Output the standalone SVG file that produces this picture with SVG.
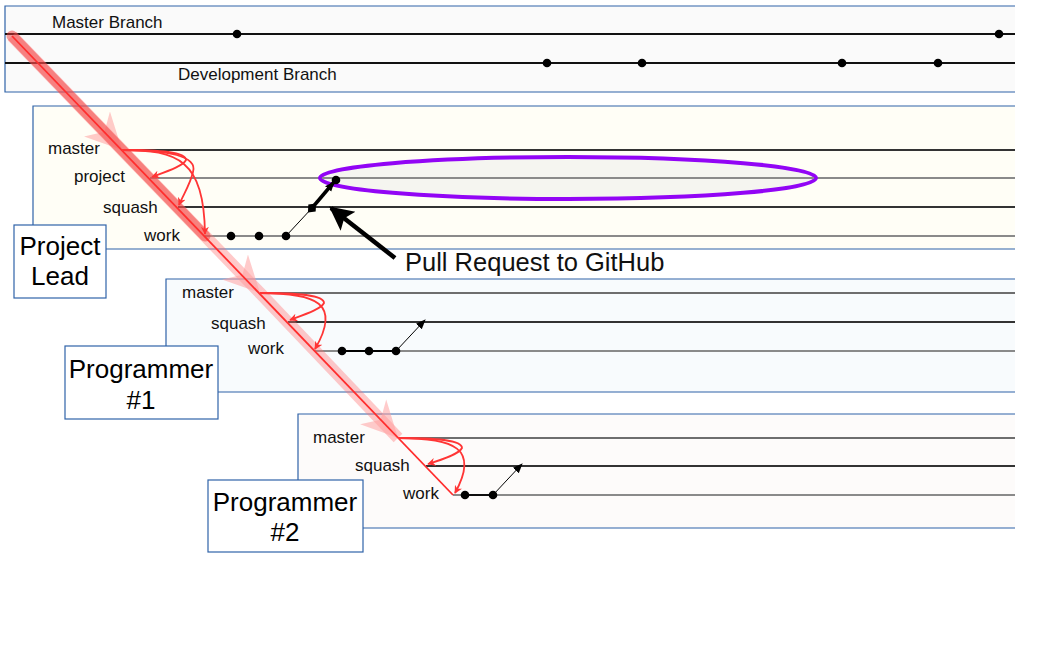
<svg xmlns="http://www.w3.org/2000/svg" width="1056" height="672" viewBox="0 0 1056 672">
  <style>
    .panel { stroke: #2f63a8; stroke-width: 1.2; }
    .tag { fill: #ffffff; stroke: #2f63a8; stroke-width: 1.2; }
    .lbl { font-family: "Liberation Sans", Arial, sans-serif; font-size: 17px; fill: #111; }
    .big { font-family: "Liberation Sans", Arial, sans-serif; font-size: 26px; fill: #000; text-anchor: middle; }
    .pr { font-family: "Liberation Sans", Arial, sans-serif; font-size: 25.5px; fill: #111; }
    .dark { stroke: #333; stroke-width: 2; }
    .grey { stroke: #8a8a8a; stroke-width: 2; }
    .mid { stroke: #6e6e6e; stroke-width: 2; }
    .blk { stroke: #111; stroke-width: 2; }
    .dot { fill: #000; }
    .arc { fill: none; stroke: #ff3535; stroke-width: 1.8; marker-end: url(#redHead); }
    .band { stroke: #ff7070; stroke-opacity: 0.38; stroke-width: 12; marker-end: url(#pinkHead); }
  </style>
  <defs>
    <marker id="redHead" viewBox="0 0 10 10" refX="9" refY="5" markerWidth="8" markerHeight="8" markerUnits="userSpaceOnUse" orient="auto">
      <path d="M0,0 L10,5 L0,10 L3,5 Z" fill="#ff3535"/>
    </marker>
    <marker id="pinkHead" viewBox="0 0 10 10" refX="10" refY="5" markerWidth="3" markerHeight="3.2" orient="auto">
      <path d="M0,0 L10,5 L0,10 L3,5 Z" fill="#ffa0a0" fill-opacity="0.55"/>
    </marker>
    <marker id="blkHead" viewBox="0 0 10 10" refX="9" refY="5" markerWidth="10" markerHeight="10" markerUnits="userSpaceOnUse" orient="auto">
      <path d="M0,1 L10,5 L0,9 Z" fill="#000"/>
    </marker>
    <marker id="bigHead" viewBox="0 0 10 10" refX="9" refY="5" markerWidth="26" markerHeight="24" markerUnits="userSpaceOnUse" orient="auto">
      <path d="M0,0 L10,5 L0,10 L2,5 Z" fill="#000"/>
    </marker>
  </defs>

  <!-- shared repository: master and development branches -->
  <g id="repo">
    <path class="panel" d="M1015,6 H5 V92 H1015" fill="#fafafa"/>
    <line class="blk" x1="5" y1="34" x2="1015" y2="34"/>
    <line class="blk" x1="5" y1="63" x2="1015" y2="63"/>
    <circle class="dot" cx="237" cy="34" r="4.3"/>
    <circle class="dot" cx="999" cy="34" r="4.3"/>
    <circle class="dot" cx="547" cy="63" r="4.3"/>
    <circle class="dot" cx="642" cy="63" r="4.3"/>
    <circle class="dot" cx="842" cy="63" r="4.3"/>
    <circle class="dot" cx="938" cy="63" r="4.3"/>
    <text class="lbl" x="52" y="28">Master Branch</text>
    <text class="lbl" x="178" y="80">Development Branch</text>
  </g>

  <!-- project lead workspace -->
  <g id="lead">
    <path class="panel" d="M1015,106 H33 V249 H1015" fill="#fffef6"/>
    <line class="dark" x1="122" y1="150" x2="1015" y2="150"/>
    <line class="grey" x1="150" y1="178" x2="1015" y2="178"/>
    <line class="dark" x1="178" y1="207" x2="1015" y2="207"/>
    <line class="grey" x1="205" y1="236" x2="1015" y2="236"/>
    <text class="lbl" x="48" y="154">master</text>
    <text class="lbl" x="74" y="182">project</text>
    <text class="lbl" x="103" y="213">squash</text>
    <text class="lbl" x="144" y="241">work</text>
    <ellipse cx="568" cy="178" rx="248" ry="21" fill="#f5f5f0" stroke="#9205f5" stroke-width="4"/>
    <line class="grey" x1="322" y1="178" x2="814" y2="178"/>
    <circle class="dot" cx="231" cy="236" r="4.3"/>
    <circle class="dot" cx="259" cy="236" r="4.3"/>
    <circle class="dot" cx="286" cy="236" r="4.3"/>
    <circle class="dot" cx="336" cy="180" r="4.3"/>
  </g>
  <g id="lead-tag">
    <rect class="tag" x="14" y="225" width="92" height="73"/>
    <text class="big" x="60" y="255">Project</text>
    <text class="big" x="60" y="285">Lead</text>
  </g>

  <!-- programmer #1 workspace -->
  <g id="prog1">
    <path class="panel" d="M1015,279 H166 V392 H1015" fill="#f8fbfd"/>
    <line class="mid" x1="260" y1="293" x2="1015" y2="293" stroke="#999"/>
    <line class="dark" x1="288" y1="322" x2="1015" y2="322"/>
    <line class="grey" x1="315" y1="351" x2="1015" y2="351"/>
    <text class="lbl" x="182" y="298">master</text>
    <text class="lbl" x="211" y="329">squash</text>
    <text class="lbl" x="248" y="354">work</text>
    <line x1="342" y1="351" x2="396" y2="351" stroke="#000" stroke-width="1.8"/>
    <circle class="dot" cx="342" cy="351" r="4.3"/>
    <circle class="dot" cx="369" cy="351" r="4.3"/>
    <circle class="dot" cx="396" cy="351" r="4.3"/>
  </g>
  <g id="prog1-tag">
    <rect class="tag" x="65" y="346" width="153" height="73"/>
    <text class="big" x="141" y="378">Programmer</text>
    <text class="big" x="141" y="409">#1</text>
  </g>

  <!-- programmer #2 workspace -->
  <g id="prog2">
    <path class="panel" d="M1015,414 H298 V528 H1015" fill="#fdfbfa"/>
    <line class="mid" x1="398" y1="438" x2="1015" y2="438"/>
    <line class="dark" x1="426" y1="466" x2="1015" y2="466"/>
    <line class="grey" x1="453" y1="495" x2="1015" y2="495" stroke="#aaa"/>
    <text class="lbl" x="313" y="443">master</text>
    <text class="lbl" x="355" y="471">squash</text>
    <text class="lbl" x="403" y="499">work</text>
    <line x1="465" y1="495" x2="493" y2="495" stroke="#000" stroke-width="1.8"/>
    <circle class="dot" cx="465" cy="495" r="4.3"/>
    <circle class="dot" cx="493" cy="495" r="4.3"/>
  </g>
  <g id="prog2-tag">
    <rect class="tag" x="208" y="480" width="155" height="72"/>
    <text class="big" x="285" y="511">Programmer</text>
    <text class="big" x="285" y="541">#2</text>
  </g>

  <!-- connectors -->
  <g id="connectors">
    <!-- clone flow from the shared repository down to each workspace -->
    <line class="band" x1="12" y1="36" x2="122" y2="150"/>
    <line class="band" x1="122" y1="150" x2="260" y2="293"/>
    <line class="band" x1="260" y1="293" x2="398" y2="438"/>
    <line x1="12" y1="36" x2="205" y2="236" stroke="#f03a3a" stroke-opacity="0.5" stroke-width="11" stroke-linecap="round"/>
    <line x1="12" y1="36" x2="453" y2="495" stroke="#ff2d2d" stroke-width="1.8"/>

    <!-- branch creation arcs -->
    <path class="arc" d="M122,150 C160,150 186,152 186,160 C183,166 168,171 152,177"/>
    <path class="arc" d="M122,150 C168,150 198,156 193,172 C190,185 183,195 179,205"/>
    <path class="arc" d="M122,150 C178,150 204,160 205,234"/>
    <path class="arc" d="M260,293 C298,293 324,295 324,303 C321,309 306,314 290,320"/>
    <path class="arc" d="M260,293 C316,293 342,303 315,349"/>
    <path class="arc" d="M398,438 C436,438 462,440 462,448 C459,454 444,459 428,464"/>
    <path class="arc" d="M398,438 C454,438 480,448 455,493"/>

    <!-- pushes from work branches -->
    <line x1="286" y1="236" x2="312" y2="208" stroke="#000" stroke-width="1"/>
    <path d="M312,202 L317,208 L312,214 L307,208 Z" fill="#000" transform="rotate(43 312 208)"/>
    <line x1="312" y1="208" x2="334" y2="182" stroke="#000" stroke-width="3.5" marker-end="url(#blkHead)"/>
    <line x1="396" y1="351" x2="425" y2="320" stroke="#000" stroke-width="1" marker-end="url(#blkHead)"/>
    <line x1="493" y1="495" x2="522" y2="464" stroke="#000" stroke-width="1" marker-end="url(#blkHead)"/>

    <!-- pull request callout -->
    <line x1="395" y1="258" x2="331" y2="208" stroke="#000" stroke-width="4.5" marker-end="url(#bigHead)"/>
    <text class="pr" x="405" y="271">Pull Request to GitHub</text>
  </g>
</svg>
